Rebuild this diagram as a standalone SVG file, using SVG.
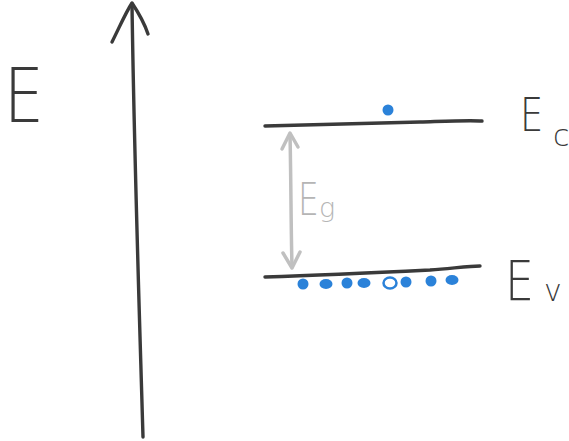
<svg xmlns="http://www.w3.org/2000/svg" width="569" height="441" viewBox="0 0 569 441">
<style>
.ink{fill:none;stroke:#3a3a3a;stroke-width:3.4;stroke-linecap:round;stroke-linejoin:round}
.gray{fill:none;stroke:#c0c0c0;stroke-width:3.5;stroke-linecap:round;stroke-linejoin:round}
.lbl{font-family:"DejaVu Sans","Liberation Sans",sans-serif;font-weight:200;fill:#3a3a3a}
.glbl{font-family:"DejaVu Sans","Liberation Sans",sans-serif;font-weight:200;fill:#b5b5b5}
.e{fill:#2b82d9}
</style>
<rect width="569" height="441" fill="#fff"/>
<g id="axis">
<path class="ink" d="M143,437 C139,300 134,150 132,4"/>
<path class="ink" d="M112,42 C120,26 126,12 132,3 C138,12 144,22 148,34"/>
<text class="lbl" x="2" y="122" font-size="74" transform="translate(2,0) scale(0.86,1)">E</text>
</g>
<g id="ec">
<path class="ink" d="M265,126 C330,124 380,123 420,122 C450,121 470,120 482,121"/>
<circle class="e" cx="388" cy="110" r="5.5"/>
<text class="lbl" x="0" y="131" font-size="46" transform="translate(520,0) scale(0.8,1)">E</text>
<text class="lbl" x="553" y="146" font-size="30">c</text>
</g>
<g id="ev">
<path class="ink" d="M265,277 C330,275 390,272 430,270 C455,268 470,266 480,266"/>
<circle class="e" cx="303" cy="284" r="5.5"/>
<ellipse class="e" cx="326" cy="284" rx="6.5" ry="5"/>
<circle class="e" cx="347" cy="283" r="5.5"/>
<ellipse class="e" cx="364" cy="283" rx="6.5" ry="5"/>
<ellipse cx="390" cy="283" rx="6.5" ry="5.5" fill="none" stroke="#2b82d9" stroke-width="2.5"/>
<circle class="e" cx="406" cy="282" r="5.5"/>
<circle class="e" cx="431" cy="281" r="5.5"/>
<ellipse class="e" cx="452" cy="280" rx="6.5" ry="5"/>
<text class="lbl" x="0" y="300" font-size="56" transform="translate(505,0) scale(0.82,1)">E</text>
<text class="lbl" x="544" y="301" font-size="30">v</text>
</g>
<g id="connectors">
<path class="gray" d="M290,134 C291,180 291,230 292,267"/>
<path class="gray" d="M282,149 L290,133 L298,147"/>
<path class="gray" d="M283,253 L292,268 L300,252"/>
</g>
<g id="eg">
<text class="glbl" x="0" y="215" font-size="44" transform="translate(298,0) scale(0.75,1)">E</text>
<text class="glbl" x="319" y="217" font-size="27">g</text>
</g>
</svg>
